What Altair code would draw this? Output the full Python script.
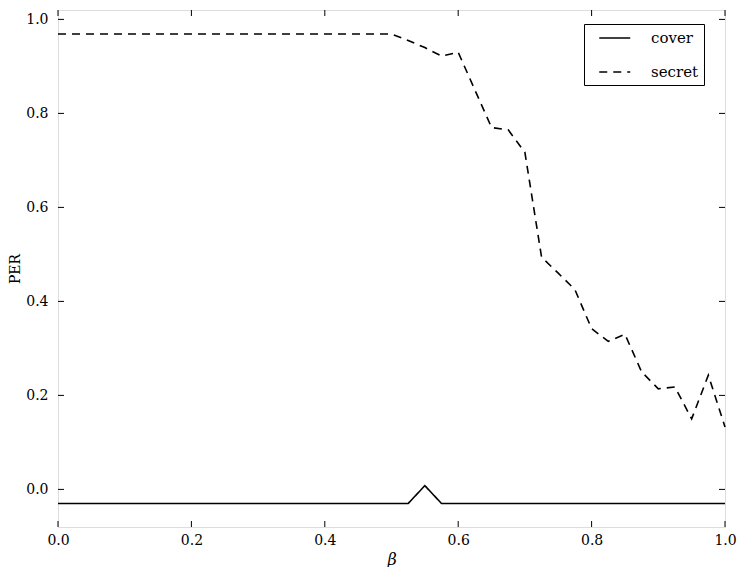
import altair as alt
import pandas as pd

beta = [0.0, 0.5, 0.525, 0.55, 0.575, 0.6, 0.625, 0.65, 0.675, 0.7, 0.725,
        0.75, 0.775, 0.8, 0.825, 0.85, 0.875, 0.9, 0.925, 0.95, 0.975, 1.0]
cover = [-0.03, -0.03, -0.03, 0.008, -0.03, -0.03, -0.03, -0.03, -0.03, -0.03, -0.03,
         -0.03, -0.03, -0.03, -0.03, -0.03, -0.03, -0.03, -0.03, -0.03, -0.03, -0.03]
secret = [0.969, 0.969, 0.955, 0.94, 0.922, 0.93, 0.85, 0.77, 0.765, 0.717, 0.494,
          0.46, 0.425, 0.342, 0.315, 0.33, 0.25, 0.214, 0.218, 0.15, 0.243, 0.133]
series_names = ["cover", "secret"]

x_ticks = [0.0, 0.2, 0.4, 0.6, 0.8, 1.0]
y_ticks = [0.0, 0.2, 0.4, 0.6, 0.8, 1.0]
x_domain = [0.0, 1.0]
y_domain = [-0.08, 1.02]

W, H = 667, 517
FONT = "DejaVu Serif, Liberation Serif, serif"
TL = 6

rows = []
for b, c, s in zip(beta, cover, secret):
    rows.append({"beta": b, "PER": c, "series": series_names[0]})
    rows.append({"beta": b, "PER": s, "series": series_names[1]})
df = pd.DataFrame(rows)

xs = alt.Scale(domain=x_domain, nice=False, zero=False)
ys = alt.Scale(domain=y_domain, nice=False, zero=False)

lines = alt.Chart(df).mark_line(color="black", strokeWidth=1.6).encode(
    x=alt.X("beta:Q", scale=xs,
            axis=alt.Axis(values=x_ticks, format=".1f", ticks=False, domain=False, grid=False,
                          labelPadding=6, title="β", titleFontStyle="italic",
                          titleFontWeight="normal", titleFontSize=16, titlePadding=4,
                          labelFontSize=14, labelFont=FONT, titleFont=FONT, labelColor="black",
                          titleColor="black", labelFlush=False)),
    y=alt.Y("PER:Q", scale=ys,
            axis=alt.Axis(values=y_ticks, format=".1f", ticks=False, domain=False, grid=False,
                          labelPadding=10, title="PER", titleFontWeight="normal",
                          titleFontSize=14, titlePadding=3, labelFontSize=14, labelFont=FONT,
                          titleFont=FONT, labelColor="black", titleColor="black",
                          labelFlush=False)),
    strokeDash=alt.StrokeDash("series:N",
                              scale=alt.Scale(domain=series_names, range=[[1, 0], [8, 6]]),
                              legend=alt.Legend(title=None, orient="none", legendX=526,
                                                legendY=14, symbolType="M-1,0H3",
                                                symbolSize=240, symbolStrokeWidth=1.6,
                                                symbolStrokeColor="black", symbolOffset=9,
                                                labelFont=FONT, labelFontSize=15,
                                                labelColor="black", labelOffset=35,
                                                rowPadding=17, padding=5,
                                                strokeColor="black", fillColor="white")),
    detail="series:N",
)

xt = pd.DataFrame({"v": x_ticks})
yt = pd.DataFrame({"v": y_ticks})

bottom_ticks = alt.Chart(xt).mark_rule(color="black", strokeWidth=1).encode(
    x=alt.X("v:Q", scale=xs), y=alt.value(H), y2=alt.value(H - TL))
top_ticks = alt.Chart(xt).mark_rule(color="black", strokeWidth=1).encode(
    x=alt.X("v:Q", scale=xs), y=alt.value(0), y2=alt.value(TL))
left_ticks = alt.Chart(yt).mark_rule(color="black", strokeWidth=1).encode(
    y=alt.Y("v:Q", scale=ys), x=alt.value(0), x2=alt.value(TL))
right_ticks = alt.Chart(yt).mark_rule(color="black", strokeWidth=1).encode(
    y=alt.Y("v:Q", scale=ys), x=alt.value(W), x2=alt.value(W - TL))

chart = alt.layer(lines, bottom_ticks, top_ticks, left_ticks, right_ticks).properties(
    width=W, height=H,
    autosize=alt.AutoSizeParams(type="none"),
    padding={"left": 50, "top": 2, "right": 14, "bottom": 40},
).configure_view(stroke="black", strokeWidth=1.5).configure(font=FONT, background="white")

chart.save("out.html", embed_options={"renderer": "svg", "actions": False})
